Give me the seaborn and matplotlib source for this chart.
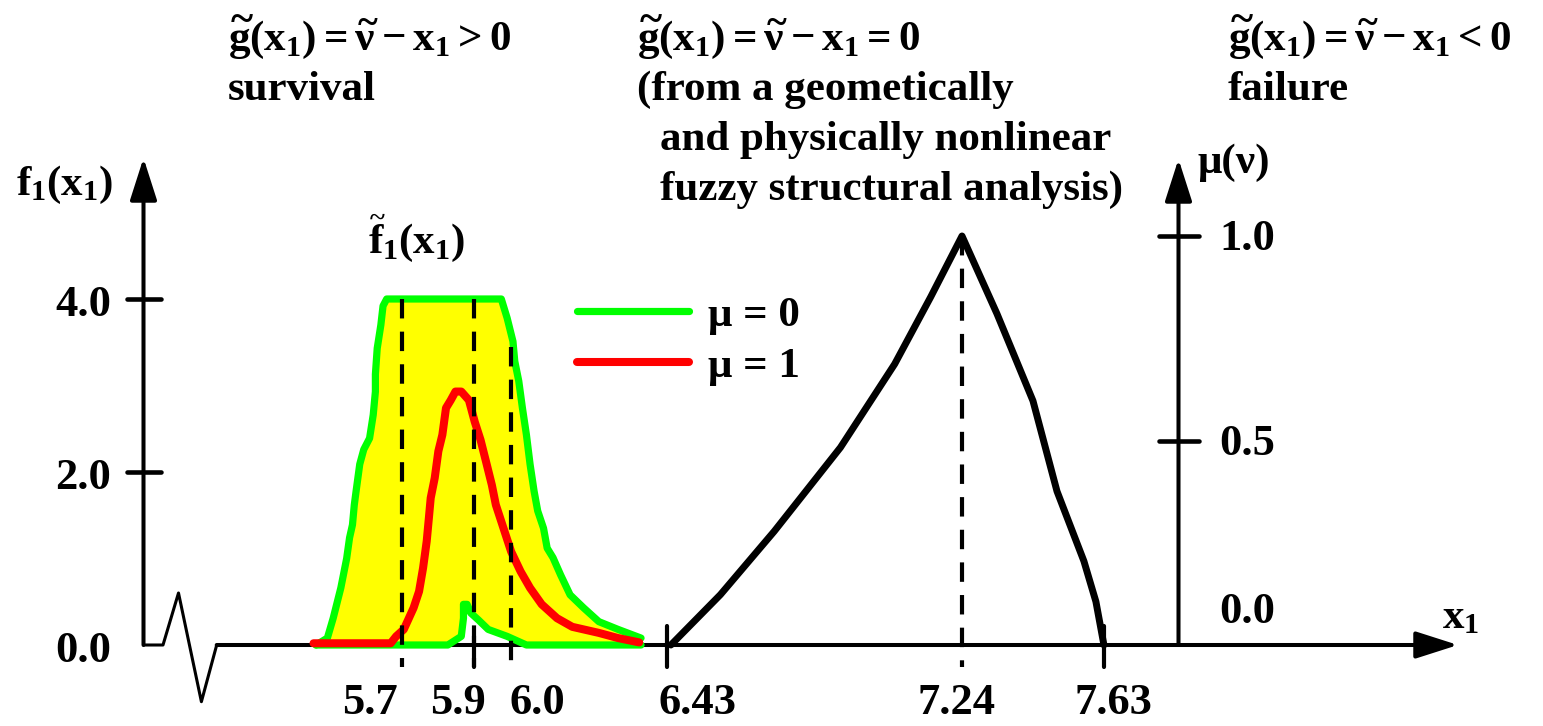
import matplotlib
matplotlib.use("Agg")
import matplotlib.pyplot as plt
import seaborn as sns
import pandas as pd
from matplotlib.lines import Line2D
from matplotlib.font_manager import FontProperties

# ---------------- data ----------------
# upper bound of the fuzzy density (mu = 0 alpha-level, upper envelope)
upper_x = [5.465, 5.496, 5.512, 5.533, 5.549, 5.557, 5.565, 5.570, 5.575, 5.585, 5.596, 5.612,
           5.622, 5.628, 5.628, 5.633, 5.643, 5.649, 5.659, 5.974, 5.990, 6.006, 6.011, 6.022,
           6.032, 6.043, 6.053, 6.064, 6.074, 6.090, 6.100, 6.116, 6.137, 6.163, 6.200, 6.242,
           6.295, 6.358]
upper_f = [0.00, 0.08, 0.31, 0.66, 1.00, 1.24, 1.39, 1.62, 1.78, 2.09, 2.26, 2.39,
           2.66, 2.93, 3.13, 3.43, 3.70, 3.92, 4.00, 4.00, 3.78, 3.51, 3.28, 3.05,
           2.74, 2.43, 2.09, 1.78, 1.55, 1.35, 1.12, 1.01, 0.81, 0.58, 0.43, 0.27,
           0.18, 0.08]
# lower bound of the fuzzy density (mu = 0 alpha-level, lower envelope)
lower_x = [5.465, 5.827, 5.864, 5.870, 5.870, 5.880, 5.890, 5.911, 5.938, 5.990, 6.043, 6.358]
lower_f = [0.00, 0.00, 0.10, 0.31, 0.47, 0.47, 0.37, 0.29, 0.18, 0.10, 0.00, 0.00]
# density at mu = 1
mode_x = [5.458, 5.670, 5.685, 5.706, 5.733, 5.748, 5.759, 5.769, 5.775, 5.780, 5.791, 5.801,
          5.812, 5.822, 5.835, 5.848, 5.864, 5.885, 5.901, 5.917, 5.932, 5.948, 5.959, 5.980,
          6.001, 6.027, 6.053, 6.085, 6.127, 6.169, 6.242, 6.295, 6.353]
mode_f = [0.02, 0.02, 0.10, 0.18, 0.43, 0.62, 0.89, 1.20, 1.47, 1.70, 1.93, 2.24,
          2.43, 2.74, 2.83, 2.93, 2.93, 2.83, 2.58, 2.37, 2.12, 1.85, 1.62, 1.35,
          1.08, 0.85, 0.66, 0.47, 0.31, 0.21, 0.14, 0.08, 0.03]
# membership function of the fuzzy resistance nu
nu_x = [6.440, 6.576, 6.724, 6.906, 7.055, 7.154, 7.240, 7.336, 7.435, 7.501, 7.575, 7.608, 7.630]
nu_mu = [0.000, 0.123, 0.278, 0.483, 0.687, 0.851, 1.000, 0.810, 0.597, 0.376, 0.205, 0.106, 0.000]

f_ticks = [0.0, 2.0, 4.0]
mu_ticks = [0.0, 0.5, 1.0]
x_ticks = [5.7, 5.9, 6.0, 6.43, 7.24, 7.63]
x_tick_labels = ["5.7", "5.9", "6.0", "6.43", "7.24", "7.63"]
legend_labels = ["\u03bc = 0", "\u03bc = 1"]

# ---------------- style ----------------
sns.set_theme(style="white")
plt.rcParams["font.family"] = ["Liberation Serif", "DejaVu Serif"]
plt.rcParams["font.weight"] = "bold"
plt.rcParams["text.color"] = "black"
plt.rcParams["mathtext.fontset"] = "custom"
plt.rcParams["mathtext.rm"] = "Liberation Serif:bold"
plt.rcParams["mathtext.it"] = "Liberation Serif:bold"
plt.rcParams["mathtext.bf"] = "Liberation Serif:bold"
plt.rcParams["mathtext.default"] = "bf"
plt.rcParams["lines.scale_dashes"] = False

W, H = 1543, 726
FS = 31
FS_NUM = 32
GREEN, RED, YELLOW = "#00ff00", "#ff0000", "#ffff00"

fig = plt.figure(figsize=(W / 100, H / 100), dpi=100)
ax = fig.add_axes([0, 0, 1, 1])
ax2 = ax.twinx()

# pixel calibration of the schematic
X_REF_PX, X_REF, X_SCALE = 401.6, 5.7, 363.9
Y0_PX, F_SCALE, MU_SCALE = 645.0, 86.5, 409.0


def dx(px):
    return X_REF + (px - X_REF_PX) / X_SCALE


def fy(py):
    return (Y0_PX - py) / F_SCALE


def my(py):
    return (Y0_PX - py) / MU_SCALE


ax.set_xlim(dx(0), dx(W))
ax.set_ylim(fy(H), fy(0))
ax2.set_ylim(my(H), my(0))

# ---------------- fuzzy density ----------------
poly_x = upper_x + lower_x[::-1]
poly_f = upper_f + lower_f[::-1]
ax.fill(poly_x, poly_f, color=YELLOW, lw=0, zorder=1)

df_up = pd.DataFrame({"x": upper_x, "f": upper_f})
df_lo = pd.DataFrame({"x": lower_x, "f": lower_f})
df_md = pd.DataFrame({"x": mode_x, "f": mode_f})
df_nu = pd.DataFrame({"x": nu_x, "mu": nu_mu})

sns.lineplot(data=df_up, x="x", y="f", ax=ax, sort=False, estimator=None,
             color=GREEN, lw=5.2, zorder=3)
sns.lineplot(data=df_lo, x="x", y="f", ax=ax, sort=False, estimator=None,
             color=GREEN, lw=5.2, zorder=3)
sns.lineplot(data=df_md, x="x", y="f", ax=ax, sort=False, estimator=None,
             color=RED, lw=5.8, zorder=4)
sns.lineplot(data=df_nu, x="x", y="mu", ax=ax2, sort=False, estimator=None,
             color="black", lw=5.0, zorder=4)
ax.axis("off")
ax2.axis("off")

# ---------------- axes (drawn schematically) ----------------
AX_LW = 2.9
XL = dx(143.5)
arrow = dict(arrowstyle="-|>,head_length=1.0,head_width=0.32", color="black",
             lw=AX_LW, shrinkA=0, shrinkB=0, mutation_scale=26)
ax.annotate("", xy=(XL, fy(158)), xytext=(XL, 0), arrowprops=arrow, zorder=5)
# x axis with break
ax.plot([XL, dx(163), dx(178.5), dx(201.4), dx(216.7)],
        [0, 0, fy(593), fy(701.7), 0], color="black", lw=2.2, zorder=5)
ax.annotate("", xy=(dx(1458), 0), xytext=(dx(216.7), 0), arrowprops=arrow, zorder=2)

# left ticks
for t in f_ticks:
    if t > 0:
        ax.plot([dx(127), dx(161)], [t, t], color="black", lw=3.3, zorder=5)
    ax.text(dx(111), t - 0.07, f"{t:.1f}", ha="right", va="center", fontsize=FS_NUM,
            fontweight="bold")

# membership axis
XM = dx(1178.5)
ax2.annotate("", xy=(XM, my(159)), xytext=(XM, 0), arrowprops=arrow, zorder=5)
for m in mu_ticks:
    if m > 0:
        ax2.plot([XM - 20 / X_SCALE, XM + 20 / X_SCALE], [m, m], color="black", lw=3.3, zorder=5)
        ax2.text(dx(1219), m - 0.008, f"{m:.1f}", ha="left", va="center", fontsize=FS_NUM,
                 fontweight="bold")
    else:
        ax2.text(dx(1219), my(612), f"{m:.1f}", ha="left", va="center", fontsize=FS_NUM,
                 fontweight="bold")

# x ticks, dashed guides and labels
DASH = (0, (14, 9.5))
label_center_px = {5.7: 370, 5.9: 458, 6.0: 537, 6.43: 697, 7.24: 957, 7.63: 1113}
dash_top = {5.7: 4.0, 5.9: 4.0, 6.0: fy(347)}
for xv, lab in zip(x_ticks, x_tick_labels):
    if xv in dash_top:
        ax.plot([xv, xv], [dash_top[xv], fy(667)], color="black", lw=3.0, ls=DASH, zorder=6)
    if xv == 7.24:
        ax2.plot([xv, xv], [1.0, my(667)], color="black", lw=3.0, ls=DASH, zorder=6)
    if xv in (6.43, 7.63):
        ax.plot([xv, xv], [fy(626), fy(667)], color="black", lw=3.0, zorder=6)
    if xv == 5.9:
        ax.plot([xv, xv], [fy(636), fy(667)], color="black", lw=3.0, zorder=6)
    ax.text(dx(label_center_px[xv]), fy(714), lab, ha="center", va="baseline",
            fontsize=FS_NUM, fontweight="bold")

# ---------------- texts ----------------
def ftext(px, py, s, **kw):
    fig.text(px / W, 1 - py / H, s, ha="left", va="baseline", fontsize=FS,
             fontweight="bold", **kw)


ftext(228, 50, r"$\widetilde{g}(x_1) = \widetilde{\nu} - x_1 > 0$")
ftext(228, 100, "survival")
ftext(637, 50, r"$\widetilde{g}(x_1) = \widetilde{\nu} - x_1 = 0$")
ftext(637, 100, "(from a geometically")
ftext(660, 150, "and physically nonlinear")
ftext(660, 200, "fuzzy structural analysis)")
ftext(1228, 50, r"$\widetilde{g}(x_1) = \widetilde{\nu} - x_1 < 0$")
ftext(1228, 100, "failure")
ftext(1198, 173, "\u03bc(\u03bd)")
ftext(16, 195, r"$f_1(x_1)$")
ftext(368, 253, r"$\widetilde{f}_1(x_1)$")
ftext(1442, 628, r"$x_1$")

# legend
handles = [Line2D([], [], color=GREEN, lw=5.2), Line2D([], [], color=RED, lw=5.8)]
ax.legend(handles, legend_labels, loc="upper left",
          bbox_to_anchor=(577 / W, 1 - 296 / H), bbox_transform=fig.transFigure,
          frameon=False, borderpad=0, borderaxespad=0, handlelength=2.6,
          handletextpad=0.45, labelspacing=0.27,
          prop=FontProperties(family="Liberation Serif", weight="bold", size=FS))

fig.savefig("out.png", dpi=100, facecolor="white")
